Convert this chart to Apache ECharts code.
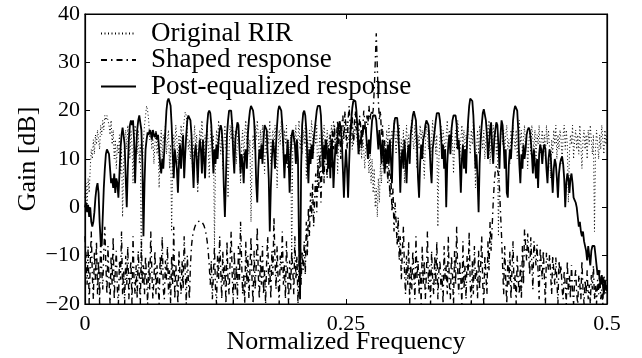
<!DOCTYPE html>
<html>
<head>
<meta charset="utf-8">
<script src="https://cdn.jsdelivr.net/npm/echarts@6/dist/echarts.min.js"></script>
<style>
html,body{margin:0;padding:0;background:#fff;}
#c{width:642px;height:358px;}
</style>
</head>
<body>
<div id="c"></div>
<script>
// Sampling grid of the read-off points: normalized frequency 0 .. 0.5, step 0.001
var freqStep = 0.001;

// Tick labels
var xTickLabels = {"0": "0", "0.25": "0.25", "0.5": "0.5"};
var yTickValues = [-20, -10, 0, 10, 20, 30, 40];

var seriesNames = ["Original RIR", "Shaped response", "Post-equalized response"];

// Original RIR (dotted), gain in dB
var originalRIR = [
 2, 5, 0, 6, 3, 8, 12, 10, 14, 11,
 15, 13, 16, 14, 12, 17, 15, 18, 16, 19,
 18, 19, 19, 17, 15, 18, 13, 16, 10, 14,
 8, 13, 11, 15, 7, 12, -2, 9, 14, 16,
 12, 17, 14, 10, 16, 13, 5, 14, 17, 15,
 11, 16, 9, 13, -15, 8, 14, 17, 19, 21,
 20, 18, 14, 16, 12, 15, 9, 13, 16, 11,
 14, 4, 12, 16, 10, 15, 13, 17, 11, 14,
 16, 8, 13, -5, 10, 15, 12, 17, 14, 9,
 15, 11, 17, 13, 16, 18, 19.7, 19, 16, 12,
 14, 10, 16, 7, 13, 17, 12, 15, 3, 11,
 16, 13, 18, 14, 9, 15, 12, 17, 13, 6,
 14, 17, 11, 15, -8, 10, 16, 13, 18, 14,
 11, 16, 8, 13, 17, 12, 15, 2, 12, 17,
 14, 18, 15, 11, 16, 9, 14, 17, 12, 5,
 13, 16, 10, 15, 18, 13, 17, 11, 14, -3,
 9, 15, 12, 17, 14, 18, 15, 10, 16, 12,
 17, 13, 7, 15, 11, 16, 13, 18, 9, 14,
 16, 12, 17, 14, 4, 12, 16, 13, 18, 15,
 11, 16, 13, 17, 8, 14, 10, 15, -12, 12,
 16, 13, 17, 9, 14, 18, 12, 15, 11, 16,
 13, 17, 6, 14, 10, 16, 12, 18, 15, 11,
 16, 13, 17, 3, 12, 15, 10, 16, 13, 17,
 14, 11, 16, 9, 15, 12, 17, 13, 18, 16,
 12, 15, 7, 14, 17, 11, 16, 13, 15, 17,
 14, 18, 16, 13, 17, 15, 12, 16, 14, 17,
 15, 13, 16, 11, 14, 10, 15, 12, 8, 13,
 14, 11, 7, 12, 5, 10, 3, 8, 0, 4,
 -2, 6, 1, 9, 5, 12, 8, 14, 11, 16,
 13, 17, 15, 12, 16, 14, 18, 15, 11, 16,
 13, 17, 9, 14, 11, 16, 5, 13, 17, 12,
 15, 10, 16, 18, 14, 12, 17, 13, 8, 15,
 12, 17, 14, 16, 11, 6, 13, 17, 15, 12,
 16, 9, 14, 18, 13, 16, 11, 15, -4, 10,
 15, 17, 12, 16, 14, 10, 15, 18, 13, 16,
 11, 17, 14, 7, 13, 16, 12, 18, 15, 10,
 14, 17, 13, 16, 9, 15, 12, 17, 14, 11,
 16, 13, 18, 15, 4, 12, 16, 11, 17, 14,
 15, 12, 16, 10, 14, 17, 13, 18, 9, 15,
 12, 17, 14, 16, 11, 15, -6, 10, 14, 17,
 13, 16, 11, 15, 17, 12, 14, 9, 16, 13,
 17, 14, 12, 16, 10, 15, 18, 13, 16, 11,
 14, 17, 12, 15, 8, 13, 16, 11, 17, 14,
 12, 16, 10, 15, 13, 17, 11, 14, 16, 12,
 15, 10, 17, 13, 16, 12, 6, 14, 11, 16,
 13, 17, 10, 15, 12, 16, 14, 9, 15, 17,
 12, 16, 13, 1, 11, 15, 13, 17, 10, 14,
 16, 12, 15, 11, 17, 13, 8, 14, 16, 12,
 15, 10, 16, 13, 17, 14, 11, 15, -5, 12,
 16, 13, 10, 15, 12, 17, 14, 11, 16, 13,
 15
];

// Shaped response (dash-dot), gain in dB
var shapedResponse = [
 -6, -10, -16, -8, -20, -12, -5, -14, -19, -9,
 -15, -7, -18, -11, -20, -6, -13, -17, -9, -4,
 -12, -18, -8, -15, -20, -10, -16, -6, -19, -13,
 -9, -17, -20, -11, -15, -5, -18, -13, -20, -10,
 -16, -8, -19, -14, -11, -20, -6, -15, -18, -12,
 -19, -9, -14, -20, -7, -16, -12, -18, -10, -15,
 -20, -11, -17, -5, -13, -19, -15, -9, -18, -12,
 -16, -20, -10, -14, -6, -17, -19, -11, -15, -8,
 -18, -13, -20, -10, -16, -4, -19, -12, -15, -20,
 -9, -14, -18, -11, -17, -6, -13, -20, -10, -15,
 -19, -12, -8, -6, -5, -4.2, -3.6, -3.2, -3, -2.9,
 -2.8, -2.8, -3, -3.3, -3.8, -4.5, -5.5, -7, -9, -12,
 -16, -11, -19, -14, -8, -17, -20, -10, -15, -6,
 -13, -19, -9, -16, -12, -20, -7, -15, -18, -11,
 -5, -14, -20, -9, -17, -12, -19, -8, -15, -3,
 -11, -18, -14, -20, -7, -16, -10, -19, -13, -6,
 -15, -20, -9, -17, -12, -4, -14, -19, -10, -16,
 -8, -18, -13, -20, -11, -6, -16, -12, -19, -9,
 -14, -2, -11, -17, -8, -15, -20, -10, -13, -5,
 -16, -12, -19, -7, -14, -20, -11, -17, -9, -13,
 -18, -6, -15, -10, -20, -12, -4, -16, -9, -13,
 -7, -14, -3, -10, 0, -6, 3, -2, 5, -4,
 2, 7, -1, 9, 4, 11, 1, 8, 12, 5,
 14, 9, 6, 13, 10, 15, 8, 16, 12, 17,
 11, 15, 18, 13, 16, 10, 17, 19, 14, 20,
 16, 12, 18, 21, 17, 15, 19, 13, 17, 20,
 16, 18, 14, 19, 17, 12, 16, 20, 18, 15,
 19, 17, 21, 18, 20, 19, 20, 24, 30, 36,
 29, 22, 18, 20, 15, 17, 11, 14, 8, 12,
 5, 10, 2, 7, -1, 4, -5, 1, -3, -8,
 -2, -11, -6, -15, -9, -4, -13, -18, -10, -16,
 -7, -20, -12, -17, -9, -14, -19, -6, -15, -11,
 -18, -13, -20, -8, -16, -11, -19, -14, -5, -17,
 -12, -20, -9, -15, -18, -10, -16, -7, -19, -13,
 -11, -17, -14, -20, -8, -15, -12, -18, -6, -16,
 -19, -10, -14, -20, -9, -16, -4, -13, -18, -11,
 -15, -20, -7, -17, -12, -19, -10, -14, -5, -16,
 -20, -11, -18, -8, -15, -13, -19, -9, -17, -12,
 -6, -16, -20, -10, -14, -18, -7, -13, -3, -9,
 -4, 1, 5, 7.5, 8.5, 8.3, 7, 4, -1, -6,
 -12, -18, -8, -15, -20, -11, -16, -9, -19, -13,
 -7, -17, -14, -20, -10, -15, -18, -12, -19, -8,
 -16, -4.6, -5, -11, -5.4, -5.8, -14, -6.2, -6.6, -17,
 -7, -7.3, -12, -7.7, -8, -19, -8.3, -8.6, -15, -8.9,
 -9.2, -20, -9.4, -9.6, -13, -9.8, -10, -18, -10, -10.2,
 -16, -10.4, -10.6, -20, -11, -14, -12, -17, -19, -13,
 -16, -20, -11, -18, -14, -19, -12, -17, -20, -15,
 -13, -18, -20, -14, -16, -19, -11, -17, -20, -15,
 -18, -13, -19, -16, -20, -14, -17, -12, -19, -16,
 -20, -15, -18, -13, -19, -17, -20, -14, -16, -18,
 -15
];

// Post-equalized response (solid), gain in dB
var postEqualized = [
 0, 1, -1, 0.5, -2, 0, -3, -4, -3, -1,
 2, 4, 5, 3, -3, -7, -8, -2, 4, 8,
 11, 12, 12.4, 11, 8, 5, 6, 4, 7, 3,
 6, 5, 2, 7, 12, 15, 16.5, 16.5, 13, 6,
 0, 8, 14, 17, 18, 17, 18, 14, 5, 12,
 16, 18, 19, 19, 16, 9, -6, 5, 12, 14,
 15.5, 15, 16, 15.5, 14, 16, 15, 14.5, 15.5, 14,
 15, 12, 9, 7, 10, 8, 12, 16, 20, 22,
 22.5, 22.5, 21, 17, 11, 6, 12, 10, 8, 3,
 9, 13, 8, 12, 15, 6, 11, 15, 18, 19,
 19, 18, 15, 9, 4, 11, 13, 10, 5, 11,
 14, 12, 7, 14, 10, 6, 12, 17, 19.5, 20,
 19.5, 17, 12, 7, 12, 9, 13, 10, 14, 16,
 17, 16, 12, 4, -2, 6, 15, 18, 20, 20.3,
 20, 17, 11, 7, 14, 16, 17.6, 17, 12, 7,
 11, 9, 5, 11, 12, 8, 15, 18, 20, 21,
 21, 20, 18, 13, 5, 1, 8, 12, 10, 13,
 9, 14, 17, 17, 16, 11, 6, -5, 4, 10,
 14, 12, 8, 13, 17, 20, 21, 21, 20, 17,
 12, 6, 11, 9, 14, 10, 3, 11, 15, 16,
 16, 13, 9, 14, 10, -8, -19, 8, 17, 19.5,
 20, 19, 16, 10, 5, 12, 9, 13, 10, 14,
 16, 18, 20, 21, 21.3, 21, 19, 13, 7, 13,
 10, 14, 11, 8, 12, 6, 14, 12, 4, 9,
 13, 11, 15, 17, 17.8, 17.5, 14, 8, 2, 8,
 12, 8, 2, 9, 15, 18, 20.5, 22, 22.4, 22,
 20, 16, 11, 14, 13, 16, 15, 17, 17, 16,
 13, 10, 14, 11, 15, 18, 19, 19.3, 19, 18,
 15, 12, 16, 13, 9, 14, 11, 7, 12, 9,
 13, 9, 14, 10, 5, 13, 17, 18.5, 18.9, 18.5,
 16, 11, 3, 10, 12, 8, 14, 10, 5, 11,
 13, 9, 15, 17, 19, 19.9, 19.8, 18, 13, 6,
 2, 9, 13, 10, 14, 15, 17, 18, 18.2, 17,
 13, 8, 5, 12, 14, 16, 18, 19.5, 19.9, 19.5,
 18, 15, 10, 13, 8, 12, 0, 9, 13, 15,
 11, 16, 18, 19, 19.3, 19, 17, 12, 14, 9,
 3, 10, 13, 8, 12, 7, 14, 18, 21, 22.5,
 22.5, 22, 19, 14, 8, 11, 6, -1, 9, 14,
 17, 19.5, 20.3, 20, 18, 15, 10, 13, 16, 17.6,
 12, 9, 14, 16, 17.6, 17, 13, 8, 15, 18,
 17, 13, 8, 12, 3, 2, 9, 12, 10, 14,
 18, 20, 21, 21, 20, 16, 9, 5, 11, 8,
 13, 10, 12, 15, 16, 16.5, 16, 14, 11, 7,
 12, 9, 6, 10, 4, 11, 13, 12, 9, 12,
 13, 12, 8, 5, 10, 12, 11, 7, 3, 8,
 10, 9, 6, 2, 7, 9, 10, 10.5, 9, 6,
 0, 5, 7, 6, 3, 6, 7, 5, 2, 1.5,
 1, 0, -2, -4, -3, -5, -6, -5, -7, -7,
 -9, -11, -8, -10, -12, -9, -8, -7.7, -8, -10,
 -12, -14, -13, -15, -16, -14, -16, -18, -15, -17,
 -17
];

function pairs(vals) {
  var out = [];
  for (var i = 0; i < vals.length; i++) {
    out.push([+(i * freqStep).toFixed(4), vals[i]]);
  }
  return out;
}

var FONT = "Liberation Serif";
var chart = echarts.init(document.getElementById('c'), null, {renderer: 'canvas'});

var axisLineStyle = {color: '#000', width: 1.2};
var tickStyle = {show: true, inside: true, length: 5, lineStyle: {color: '#000', width: 1}};
chart.setOption({
  animation: false,
  backgroundColor: '#fff',
  grid: {left: 85, right: 35, top: 14, bottom: 54, containLabel: false, outerBoundsMode: 'none',
    show: true, borderColor: '#000', borderWidth: 1.2, backgroundColor: 'transparent'},
  legend: {
    orient: 'vertical',
    left: 95,
    top: 15,
    itemWidth: 35,
    itemHeight: 14,
    itemGap: -0.5,
    data: seriesNames,
    itemStyle: {opacity: 0},
    textStyle: {fontFamily: FONT, fontSize: 27, color: '#000', lineHeight: 25.5, padding: [0, 0, 0, 10]},
    inactiveColor: '#000'
  },
  xAxis: [{
    type: 'value', min: 0, max: 0.5, interval: 0.25,
    name: 'Normalized Frequency', nameLocation: 'middle', nameGap: 25, nameMoveOverlap: false,
    nameTextStyle: {fontFamily: FONT, fontSize: 26, color: '#000'},
    axisLine: {show: true, onZero: false, lineStyle: axisLineStyle},
    axisTick: tickStyle,
    splitLine: {show: false},
    axisLabel: {fontFamily: FONT, fontSize: 22, color: '#000', margin: 9,
      formatter: function (v) { var k = String(+v.toFixed(2)); return xTickLabels[k] !== undefined ? xTickLabels[k] : k; }}
  }, {
    type: 'value', min: 0, max: 0.5, interval: 0.25, position: 'top',
    axisLine: {show: true, onZero: false, lineStyle: axisLineStyle},
    axisTick: tickStyle,
    axisLabel: {show: false}, splitLine: {show: false}
  }],
  yAxis: [{
    type: 'value', min: -20, max: 40, interval: 10,
    name: 'Gain [dB]', nameLocation: 'middle', nameGap: 44, nameMoveOverlap: false,
    nameTextStyle: {fontFamily: FONT, fontSize: 26, color: '#000'},
    axisLine: {show: true, onZero: false, lineStyle: axisLineStyle},
    axisTick: tickStyle,
    splitLine: {show: false},
    axisLabel: {fontFamily: FONT, fontSize: 22, color: '#000', margin: 5,
      formatter: function (v) { return v < 0 ? '\u2212' + Math.abs(v) : String(v); }}
  }, {
    type: 'value', min: -20, max: 40, interval: 10, position: 'right',
    axisLine: {show: true, onZero: false, lineStyle: axisLineStyle},
    axisTick: tickStyle,
    axisLabel: {show: false}, splitLine: {show: false}
  }],
  series: [{
    name: seriesNames[0], type: 'line', data: pairs(originalRIR),
    showSymbol: false, symbol: 'none', silent: true, z: 1,
    lineStyle: {color: '#000', width: 1, type: [1, 2.5]},
    itemStyle: {color: '#000'}
  }, {
    name: seriesNames[1], type: 'line', data: pairs(shapedResponse),
    showSymbol: false, symbol: 'none', silent: true, z: 2,
    lineStyle: {color: '#000', width: 1.4, type: [6, 4, 1.5, 4]},
    itemStyle: {color: '#000'}
  }, {
    name: seriesNames[2], type: 'line', data: pairs(postEqualized),
    showSymbol: false, symbol: 'none', silent: true, z: 3,
    lineStyle: {color: '#000', width: 1.8, type: 'solid'},
    itemStyle: {color: '#000'}
  }]
});
</script>
</body>
</html>
